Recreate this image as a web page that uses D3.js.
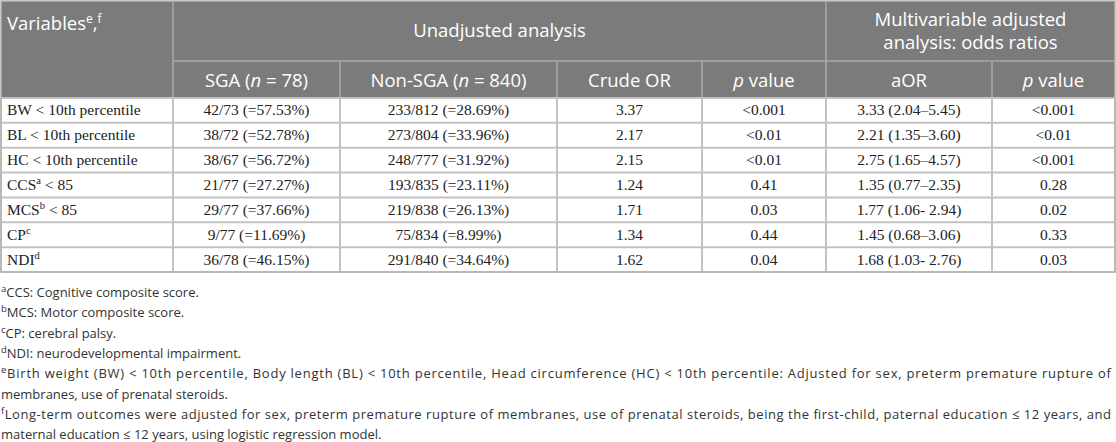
<!DOCTYPE html>
<html>
<head>
<meta charset="utf-8">
<script src="https://cdn.jsdelivr.net/npm/d3@7"></script>
<style>
  body { margin: 0; background: #fff; }
  .head { font-family: "Open Sans", sans-serif; font-size: 18.5px; fill: #fff; }
  .cell { font-family: "Liberation Serif", serif; font-size: 15.5px; fill: #222; }
  .note { font-family: "Open Sans", sans-serif; font-size: 13px; fill: #333; }
</style>
</head>
<body>
<svg id="chart" width="1116" height="442"></svg>
<script>
// table contents
const variables = [
  ['BW < 10th percentile'],
  ['BL < 10th percentile'],
  ['HC < 10th percentile'],
  ['CCS', 'a', ' < 85'],
  ['MCS', 'b', ' < 85'],
  ['CP', 'c'],
  ['NDI', 'd']
];
const sga = ['42/73 (=57.53%)', '38/72 (=52.78%)', '38/67 (=56.72%)', '21/77 (=27.27%)', '29/77 (=37.66%)', '9/77 (=11.69%)', '36/78 (=46.15%)'];
const nonSga = ['233/812 (=28.69%)', '273/804 (=33.96%)', '248/777 (=31.92%)', '193/835 (=23.11%)', '219/838 (=26.13%)', '75/834 (=8.99%)', '291/840 (=34.64%)'];
const crudeOR = ['3.37', '2.17', '2.15', '1.24', '1.71', '1.34', '1.62'];
const crudeP = ['<0.001', '<0.01', '<0.01', '0.41', '0.03', '0.44', '0.04'];
const aOR = ['3.33 (2.04–5.45)', '2.21 (1.35–3.60)', '2.75 (1.65–4.57)', '1.35 (0.77–2.35)', '1.77 (1.06- 2.94)', '1.45 (0.68–3.06)', '1.68 (1.03- 2.76)'];
const adjP = ['<0.001', '<0.01', '<0.001', '0.28', '0.02', '0.33', '0.03'];

// sub headers: [text, italic?] pieces
const subHeads = [
  [['SGA ('], ['n', true], [' = 78)']],
  [['Non-SGA ('], ['n', true], [' = 840)']],
  [['Crude OR']],
  [['p', true], [' value']],
  [['aOR']],
  [['p', true], [' value']]
];

// footnotes: [superscript, text, justified?]
const notes = [
  ['a', 'CCS: Cognitive composite score.', false],
  ['b', 'MCS: Motor composite score.', false],
  ['c', 'CP: cerebral palsy.', false],
  ['d', 'NDI: neurodevelopmental impairment.', false],
  ['e', 'Birth weight (BW) < 10th percentile, Body length (BL) < 10th percentile, Head circumference (HC) < 10th percentile: Adjusted for sex, preterm premature rupture of', true],
  ['', 'membranes, use of prenatal steroids.', false],
  ['f', 'Long-term outcomes were adjusted for sex, preterm premature rupture of membranes, use of prenatal steroids, being the first-child, paternal education ≤ 12 years, and', true],
  ['', 'maternal education ≤ 12 years, using logistic regression model.', false]
];

const svg = d3.select('#chart');
const colEdges = [1, 173, 340, 557, 702, 826, 992, 1115];
const headTop = 1, headMid = 61, headBottom = 98, bodyBottom = 272;

const y = d3.scaleBand()
  .domain(d3.range(variables.length))
  .range([headBottom, bodyBottom]);

const colMid = i => (colEdges[i] + colEdges[i + 1]) / 2;

// header background
svg.append('rect')
  .attr('x', colEdges[0]).attr('y', headTop)
  .attr('width', colEdges[7] - colEdges[0]).attr('height', headBottom - headTop)
  .attr('fill', '#7b7b7b');

// header grid lines
const hl = svg.append('g').attr('stroke', '#a9a9a9').attr('stroke-width', 1.5);
hl.append('line').attr('x1', colEdges[1]).attr('x2', colEdges[7]).attr('y1', headMid).attr('y2', headMid);
[1, 5].forEach(i => hl.append('line').attr('x1', colEdges[i]).attr('x2', colEdges[i]).attr('y1', headTop).attr('y2', headBottom));
[2, 3, 4, 6].forEach(i => hl.append('line').attr('x1', colEdges[i]).attr('x2', colEdges[i]).attr('y1', headMid).attr('y2', headBottom));

// header text
const v = svg.append('text').attr('class', 'head').attr('x', 7).attr('y', 30);
v.append('tspan').text('Variables');
v.append('tspan').attr('dy', -7).attr('font-size', 12).text('e');
v.append('tspan').attr('dy', 7).text(',');
v.append('tspan').attr('dy', -7).attr('font-size', 12).text('f');

svg.append('text').attr('class', 'head')
  .attr('x', (colEdges[1] + colEdges[5]) / 2).attr('y', 37)
  .attr('text-anchor', 'middle').text('Unadjusted analysis');

svg.append('text').attr('class', 'head')
  .attr('x', (colEdges[5] + colEdges[7]) / 2).attr('y', 26)
  .attr('text-anchor', 'middle').text('Multivariable adjusted');
svg.append('text').attr('class', 'head')
  .attr('x', (colEdges[5] + colEdges[7]) / 2).attr('y', 49)
  .attr('text-anchor', 'middle').text('analysis: odds ratios');

subHeads.forEach((parts, i) => {
  const t = svg.append('text').attr('class', 'head')
    .attr('x', colMid(i + 1)).attr('y', 87).attr('text-anchor', 'middle');
  parts.forEach(p => t.append('tspan').attr('font-style', p[1] ? 'italic' : null).text(p[0]));
});

// body grid
const grid = svg.append('g').attr('stroke', '#c2c2c2').attr('stroke-width', 2).attr('fill', 'none');
d3.range(variables.length + 1).forEach(i => {
  const yy = i < variables.length ? y(i) : bodyBottom;
  grid.append('line').attr('x1', colEdges[0]).attr('x2', colEdges[7]).attr('y1', yy).attr('y2', yy);
});
colEdges.forEach(x => grid.append('line').attr('x1', x).attr('x2', x).attr('y1', headBottom).attr('y2', bodyBottom));
svg.append('rect')
  .attr('x', colEdges[0]).attr('y', headTop)
  .attr('width', colEdges[7] - colEdges[0]).attr('height', bodyBottom - headTop)
  .attr('fill', 'none').attr('stroke', '#b5b5b5').attr('stroke-width', 1.5);

// body cells
const rows = svg.append('g').selectAll('g')
  .data(variables.map((vr, i) => ({ vr, cols: [sga[i], nonSga[i], crudeOR[i], crudeP[i], aOR[i], adjP[i]], i })))
  .join('g')
  .attr('transform', d => `translate(0,${y(d.i) + y.bandwidth() / 2 + 5})`);

rows.each(function (d) {
  const g = d3.select(this);
  const t = g.append('text').attr('class', 'cell').attr('x', 7);
  t.append('tspan').text(d.vr[0]);
  if (d.vr[1]) t.append('tspan').attr('dy', -6).attr('font-size', 10.5).text(d.vr[1]);
  if (d.vr[2]) t.append('tspan').attr('dy', 6).text(d.vr[2]);
  d.cols.forEach((c, j) => g.append('text').attr('class', 'cell')
    .attr('x', colMid(j + 1)).attr('text-anchor', 'middle').text(c));
});

// footnotes
const ny = d3.scaleLinear().domain([0, 1]).range([297, 317.3]);
notes.forEach((n, i) => {
  const t = svg.append('text').attr('class', 'note').attr('x', 1).attr('y', ny(i));
  if (n[0]) t.append('tspan').attr('dy', -5).attr('font-size', 9.5).text(n[0]);
  t.append('tspan').attr('dy', n[0] ? 5 : 0).text(n[1]);
  if (n[2]) {
    t.attr('textLength', 1110).attr('lengthAdjust', 'spacing');
  }
});
</script>
</body>
</html>
